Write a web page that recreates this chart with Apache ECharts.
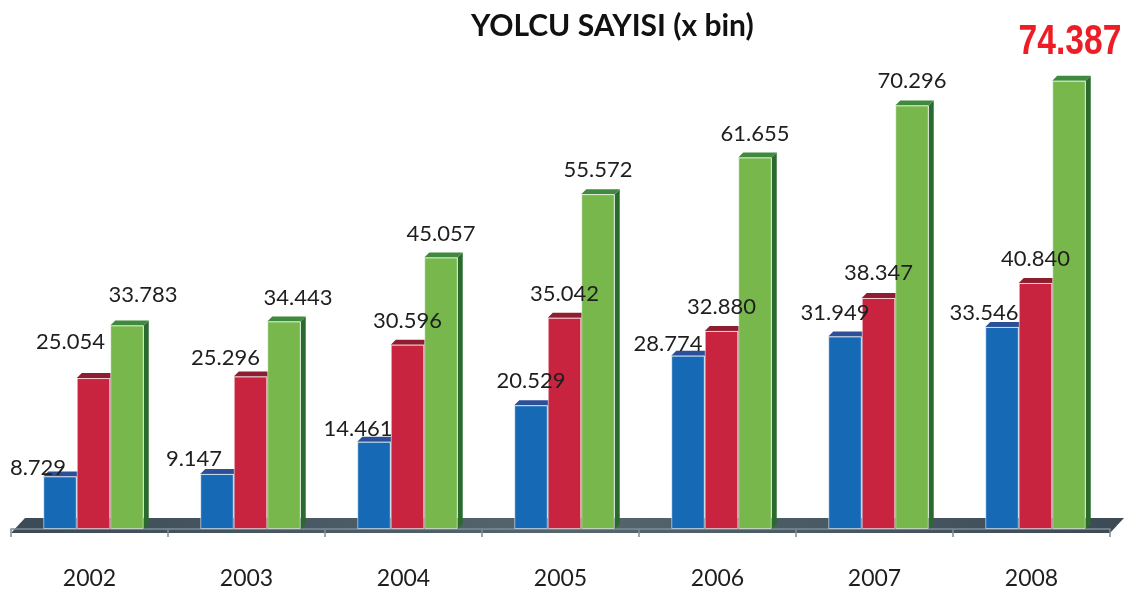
<!DOCTYPE html>
<html>
<head>
<meta charset="utf-8">
<title>YOLCU SAYISI</title>
<script src="https://cdn.jsdelivr.net/npm/echarts@6/dist/echarts.min.js"></script>
<style>
  html, body { margin: 0; padding: 0; background: #fff; }
  #main { width: 1127px; height: 594px; }
</style>
</head>
<body>
<div id="main"></div>
<script>
// veriler
var years = ['2002', '2003', '2004', '2005', '2006', '2007', '2008'];
var mavi = [8.729, 9.147, 14.461, 20.529, 28.774, 31.949, 33.546];
var kirmizi = [25.054, 25.296, 30.596, 35.042, 32.880, 38.347, 40.840];
var yesil = [33.783, 34.443, 45.057, 55.572, 61.655, 70.296, 74.387];

// etiket kaymaları [dx, dy] (orijinal grafikte elle yerleştirilmiş)
var maviEtiket = [[-22, 7], [-23, 1], [-16, 3], [0, -8], [-20, 4], [-10, -8], [-18, 2]];
var kirmiziEtiket = [[-23, -20], [-25, -3], [0, -8], [0, -8], [0, -8], [0, -9], [0, -8]];
var yesilEtiket = [[16, -15], [14, -8], [0, -8], [0, -8], [0, -8], [0, -9], [0, 0]];

var GAP = 0.36;   // barCategoryGap
var DEPTH = 5;    // 3D derinlik

// 3D yan ve üst yüzler
function render3d(k, topColor, sideColor) {
    return function (params, api) {
        var idx = api.value(0), val = api.value(1);
        var top = api.coord([idx, val]);
        var base = api.coord([idx, 0]);
        var band = api.size([1, 0])[0];
        var w = band * (1 - GAP) / 3;
        var x0 = top[0] - 1.5 * w + k * w;
        var x1 = x0 + w;
        var d = DEPTH;
        return {
            type: 'group',
            children: [
                {
                    type: 'polygon',
                    shape: { points: [[x1, top[1]], [x1 + d, top[1] - d], [x1 + d, base[1] - d], [x1, base[1]]] },
                    style: { fill: sideColor }
                },
                {
                    type: 'polygon',
                    shape: { points: [[x0, top[1]], [x0 + d, top[1] - d], [x1 + d, top[1] - d], [x1, top[1]]] },
                    style: { fill: topColor }
                }
            ]
        };
    };
}

function pairs(arr) {
    return arr.map(function (v, i) { return [i, v]; });
}

function barData(arr, offs, hideLast) {
    return arr.map(function (v, i) {
        var item = { value: v, label: { offset: offs[i] } };
        if (hideLast && i === arr.length - 1) item.label.show = false;
        return item;
    });
}

var labelBase = {
    show: true,
    position: 'top',
    color: '#1e1e1e',
    fontFamily: 'Lato',
    fontSize: 22,
    formatter: function (p) { return p.value.toFixed(3); }
};

var chart = echarts.init(document.getElementById('main'));
var option = {
    animation: false,
    title: {
        text: 'YOLCU SAYISI (x bin)',
        left: 466,
        top: 6,
        textStyle: { fontFamily: 'Lato', fontWeight: 'bold', fontSize: 30, color: '#111' }
    },
    grid: [
        { left: 11, right: 17, top: 47, bottom: 65 },   // eksen
        { left: 15, right: 13, top: 47, bottom: 65 }    // çubuklar
    ],
    xAxis: [
        {
            type: 'category',
            gridIndex: 0,
            data: years,
            offset: 6,
            axisLine: { lineStyle: { color: '#7f8c95', width: 1.5 } },
            axisTick: { show: true, length: 8, lineStyle: { color: '#7f8c95', width: 1.5 } },
            axisLabel: { margin: 32, color: '#1e1e1e', fontFamily: 'Lato', fontSize: 23 }
        },
        { type: 'category', gridIndex: 1, data: years, show: false }
    ],
    yAxis: [
        { type: 'value', gridIndex: 0, min: 0, max: 80, show: false },
        { type: 'value', gridIndex: 1, min: 0, max: 80, show: false }
    ],
    series: [
        {
            type: 'bar', xAxisIndex: 1, yAxisIndex: 1, z: 3, barGap: 0, barCategoryGap: '36%',
            data: barData(mavi, maviEtiket),
            itemStyle: { color: '#1569b5', borderColor: 'rgba(255,255,255,0.55)', borderWidth: 1 },
            label: labelBase
        },
        {
            type: 'bar', xAxisIndex: 1, yAxisIndex: 1, z: 3, barGap: 0, barCategoryGap: '36%',
            data: barData(kirmizi, kirmiziEtiket),
            itemStyle: { color: '#c9243f', borderColor: 'rgba(255,255,255,0.55)', borderWidth: 1 },
            label: labelBase
        },
        {
            type: 'bar', xAxisIndex: 1, yAxisIndex: 1, z: 3, barGap: 0, barCategoryGap: '36%',
            data: barData(yesil, yesilEtiket, true),
            itemStyle: { color: '#77b74c', borderColor: 'rgba(255,255,255,0.55)', borderWidth: 1 },
            label: labelBase
        },
        { type: 'custom', xAxisIndex: 1, yAxisIndex: 1, z: 1, silent: true, data: pairs(mavi), encode: { x: 0, y: 1 }, renderItem: render3d(0, '#2c4f98', '#1d4780') },
        { type: 'custom', xAxisIndex: 1, yAxisIndex: 1, z: 1, silent: true, data: pairs(kirmizi), encode: { x: 0, y: 1 }, renderItem: render3d(1, '#8e1d2f', '#7d1828') },
        { type: 'custom', xAxisIndex: 1, yAxisIndex: 1, z: 1, silent: true, data: pairs(yesil), encode: { x: 0, y: 1 }, renderItem: render3d(2, '#3f8a3c', '#2b6a2e') }
    ]
};
chart.setOption(option);

// zemin ve vurgulu son değer
var c0 = chart.convertToPixel({ xAxisIndex: 0 }, 0);
var c1 = chart.convertToPixel({ xAxisIndex: 0 }, 1);
var cl = chart.convertToPixel({ xAxisIndex: 0 }, years.length - 1);
var band = c1 - c0;
var y0 = chart.convertToPixel({ yAxisIndex: 0 }, 0);
var xl = c0 - band / 2, xr = cl + band / 2;
var last = yesil.length - 1;
var tip = chart.convertToPixel({ xAxisIndex: 1, yAxisIndex: 1 }, [last, yesil[last]]);
var barW = band * (1 - GAP) / 3;   // yeşil çubuk grubun sağında

chart.setOption({
    graphic: [
        {
            type: 'polygon',
            z: 0,
            silent: true,
            shape: { points: [[xl, y0 + 4], [xl + 14, y0 - 11], [xr + 14, y0 - 11], [xr, y0 + 4]] },
            style: {
                fill: new echarts.graphic.LinearGradient(0, 0, 1, 0, [
                    { offset: 0, color: '#3b4a55' },
                    { offset: 0.5, color: '#56666f' },
                    { offset: 1, color: '#3b4a55' }
                ])
            }
        },
        {
            type: 'text',
            z: 10,
            silent: true,
            x: tip[0] + barW + 1,
            y: tip[1] - 38,
            scaleX: 0.8,
            style: {
                text: yesil[last].toFixed(3),
                x: 0,
                y: 0,
                align: 'center',
                verticalAlign: 'middle',
                fill: '#ee1c25',
                font: 'bold 42px "Liberation Sans", Arial, sans-serif'
            }
        }
    ]
});
</script>
</body>
</html>
